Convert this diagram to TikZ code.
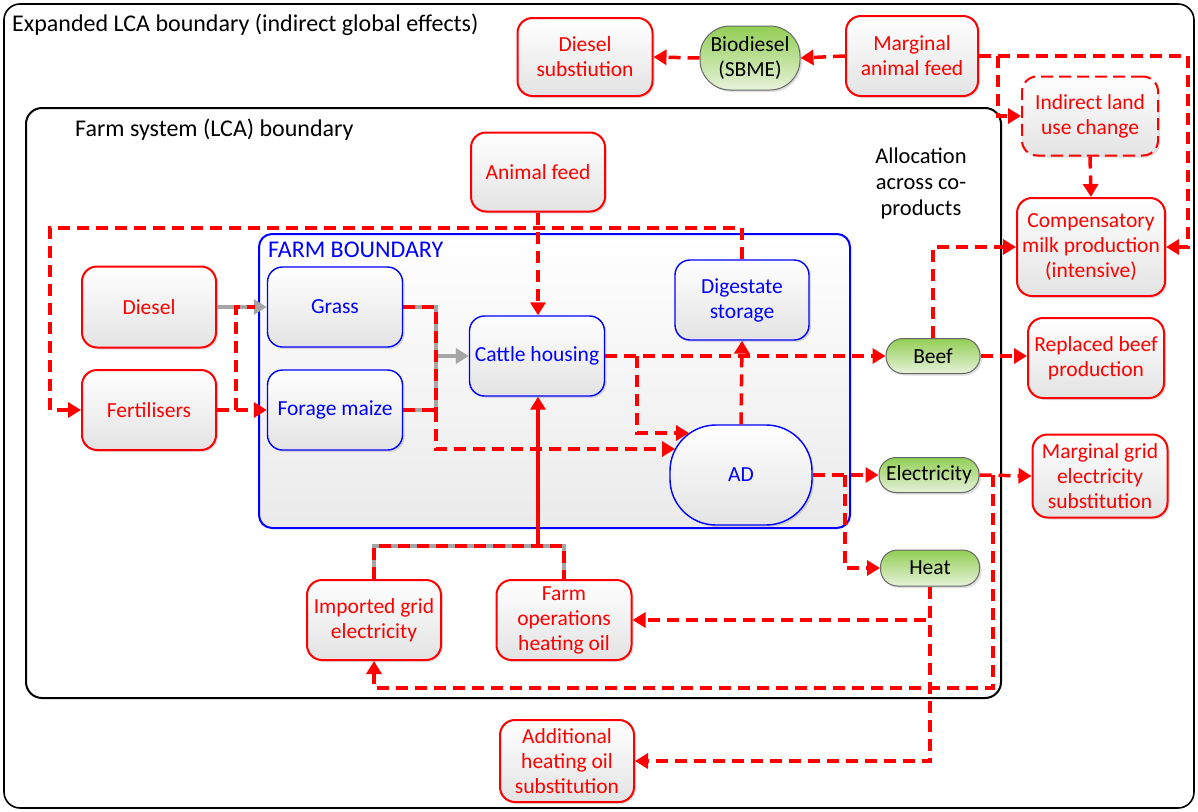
\documentclass[tikz,border=0pt]{standalone}
\usepackage{fontspec}
\setmainfont{Carlito}
\usetikzlibrary{arrows.meta,shadows}
\definecolor{pillTop}{RGB}{146,206,84}
\definecolor{pillBot}{RGB}{230,242,218}
\definecolor{flowGray}{RGB}{165,165,165}

\tikzset{
  txt/.style={font=\fontsize{21.5}{25}\selectfont},
  bigtxt/.style={font=\fontsize{24}{28}\selectfont},
  base/.style={txt, align=center, inner sep=1pt, top color=white, bottom color=black!11,
    drop shadow={shadow xshift=2pt, shadow yshift=-2pt, opacity=0.25}},
  sz/.style 2 args={minimum width=#1pt, minimum height=#2pt},
  redbox/.style={base, draw=red, line width=2pt, rounded corners=15pt, text=red},
  bluebox/.style={base, draw=blue, line width=1.4pt, rounded corners=15pt, text=blue},
  pill/.style={txt, align=center, inner sep=1pt, draw=black!60, line width=1pt,
    top color=pillTop, bottom color=pillBot, text=black,
    drop shadow={shadow xshift=2pt, shadow yshift=-2pt, opacity=0.25}},
  flowline/.style={draw=red, line width=3.5pt, dash pattern=on 12pt off 7pt},
  flow/.style={flowline, -{Triangle[length=13pt,width=15pt]}},
  grayline/.style={draw=flowGray, line width=3.2pt},
  grayflow/.style={grayline, -{Triangle[length=13pt,width=15pt]}},
}

\begin{document}
\begin{tikzpicture}[x=1pt, y=-1pt]
\useasboundingbox (0,0) rectangle (1198,811);

% system boundaries
\draw[line width=1.6pt, rounded corners=16pt] (4,4) rectangle (1194,808);
\node[bigtxt, anchor=west, inner sep=0pt] (outerlbl) at (12,25) {Expanded LCA boundary (indirect global effects)};
\draw[line width=2pt, rounded corners=16pt, fill=white] (26,108) rectangle (1001,698);
\node[bigtxt, anchor=west, inner sep=0pt] (innerlbl) at (75,130) {Farm system (LCA) boundary};
\draw[draw=blue, line width=2pt, rounded corners=13pt, top color=white, bottom color=black!8] (259,234) rectangle (850,528);
\node[bigtxt, text=blue, anchor=west, inner sep=0pt] (farmlbl) at (268,250) {FARM BOUNDARY};

\node[font=\fontsize{22.5}{26}\selectfont, align=center] (alloc) at (921,183) {Allocation\\across co-\\products};

% process and product nodes
\node[redbox, sz={135}{78}] (dsub) at (585,57) {Diesel\\substiution};
\node[pill, sz={100}{64}, rounded corners=30pt] (biod) at (750,58) {Biodiesel\\(SBME)};
\node[redbox, sz={132}{80}] (mfeed) at (912,56) {Marginal\\animal feed};
\node[redbox, sz={136}{79}, dash pattern=on 12pt off 6pt] (iluc) at (1090,116) {Indirect land\\use change};
\node[redbox, sz={148}{98}] (comp) at (1091,247) {Compensatory\\milk production\\(intensive)};
\node[redbox, sz={134}{79}] (afeed) at (538,172) {Animal feed};
\node[redbox, sz={134}{81}] (diesel) at (149,307) {Diesel};
\node[redbox, sz={134}{80}] (fert) at (149,410) {Fertilisers};
\node[bluebox, sz={135}{80}] (grass) at (335,307) {Grass};
\node[bluebox, sz={135}{80}] (maize) at (335,410) {Forage maize};
\node[bluebox, sz={135}{80}] (cattle) at (537,356) {Cattle housing};
\node[bluebox, sz={134}{80}] (dig) at (742,300) {Digestate\\storage};
\node[bluebox, sz={142}{100}, rounded corners=46pt] (ad) at (741,475) {AD};
\node[pill, sz={94}{35}, rounded corners=17pt] (beef) at (933,356) {Beef};
\node[pill, sz={100}{35}, rounded corners=17pt] (elec) at (929,475) {Electricity};
\node[pill, sz={99}{36}, rounded corners=17pt] (heat) at (930,568) {Heat};
\node[redbox, sz={136}{80}] (rbeef) at (1096,358) {Replaced beef\\production};
\node[redbox, sz={135}{83}] (mgrid) at (1100,476) {Marginal grid\\electricity\\substitution};
\node[redbox, sz={134}{80}] (impg) at (374,620) {Imported grid\\electricity};
\node[redbox, sz={135}{80}] (fop) at (564,620) {Farm\\operations\\heating oil};
\node[redbox, sz={134}{82}] (addh) at (567,761) {Additional\\heating oil\\substitution};

% junctions of the flow lines
\coordinate (jMF) at (998,56);
\coordinate (rMF) at (1188,56);
\coordinate (tl) at (50,228);
\coordinate (jF) at (236,410);
\coordinate (jM) at (436,410);
\coordinate (jC) at (436,356);
\coordinate (adin1) at (675,449);
\coordinate (jCH) at (637,356);
\coordinate (adin2) at (689,433);
\coordinate (jAD) at (845,475);
\coordinate (jE) at (993,475);
\coordinate (cB) at (993,688);
\coordinate (jR) at (564,546);
\coordinate (jT) at (538,546);

% expanded-boundary flows
\draw[flow] (mfeed.west) -- (biod.east);
\draw[flow] (biod.west) -- (dsub.east);
\draw[flow] (mfeed.east) -- (rMF) |- (comp.east);
\draw[flow] (jMF) |- (iluc.west);
\draw[flow] (iluc.south) -- (comp.north);
\draw[flow] (beef.north) |- (comp.west);
\draw[flow] (beef.east) -- (beef.east -| rbeef.west);

% digestate returned as fertiliser
\draw[flow] (dig.north) |- (tl) |- (fert.west);
\draw[flow] (afeed.south) -- (afeed.south |- cattle.north);

% crop inputs
\draw[grayflow] (diesel.east) -- (grass.west);
\draw[flowline] (fert.east) -- (jF);
\draw[flow] (jF) -- (maize.west);
\draw[flowline] (jF) |- ([xshift=-12pt]grass.west);

% crops to cattle housing and AD
\draw[grayline] (grass.east) -| (jM) -- (maize.east);
\draw[grayflow] (jC) -- (cattle.west);
\draw[flowline] (grass.east) -| (jM);
\draw[flowline] (maize.east) -- (jM);
\draw[flow] (jM) |- (adin1);

% cattle housing and AD outputs
\draw[flow] (cattle.east) -- (beef.west);
\draw[flow] (jCH) |- (adin2);
\draw[flow] (ad.north) -- (dig.south);
\draw[flow] (ad.east) -- (elec.west);
\draw[flow] (jAD) |- (heat.west);
\draw[flow] (elec.east) -- (mgrid.west);
\draw[flow] (jE) -- (cB) -| (impg.south);
\draw[flow] (heat.south) |- (fop.east);
\draw[flow] (heat.south) |- (addh.east);

% energy inputs to cattle housing
\draw[grayline] (impg.north) |- (jR) -- (fop.north);
\draw[flowline] (impg.north) |- (jR) -- (fop.north);
\draw[draw=red, line width=3.5pt, -{Triangle[length=13pt,width=15pt]}] (jT) -- (jT |- cattle.south);
\end{tikzpicture}
\end{document}
